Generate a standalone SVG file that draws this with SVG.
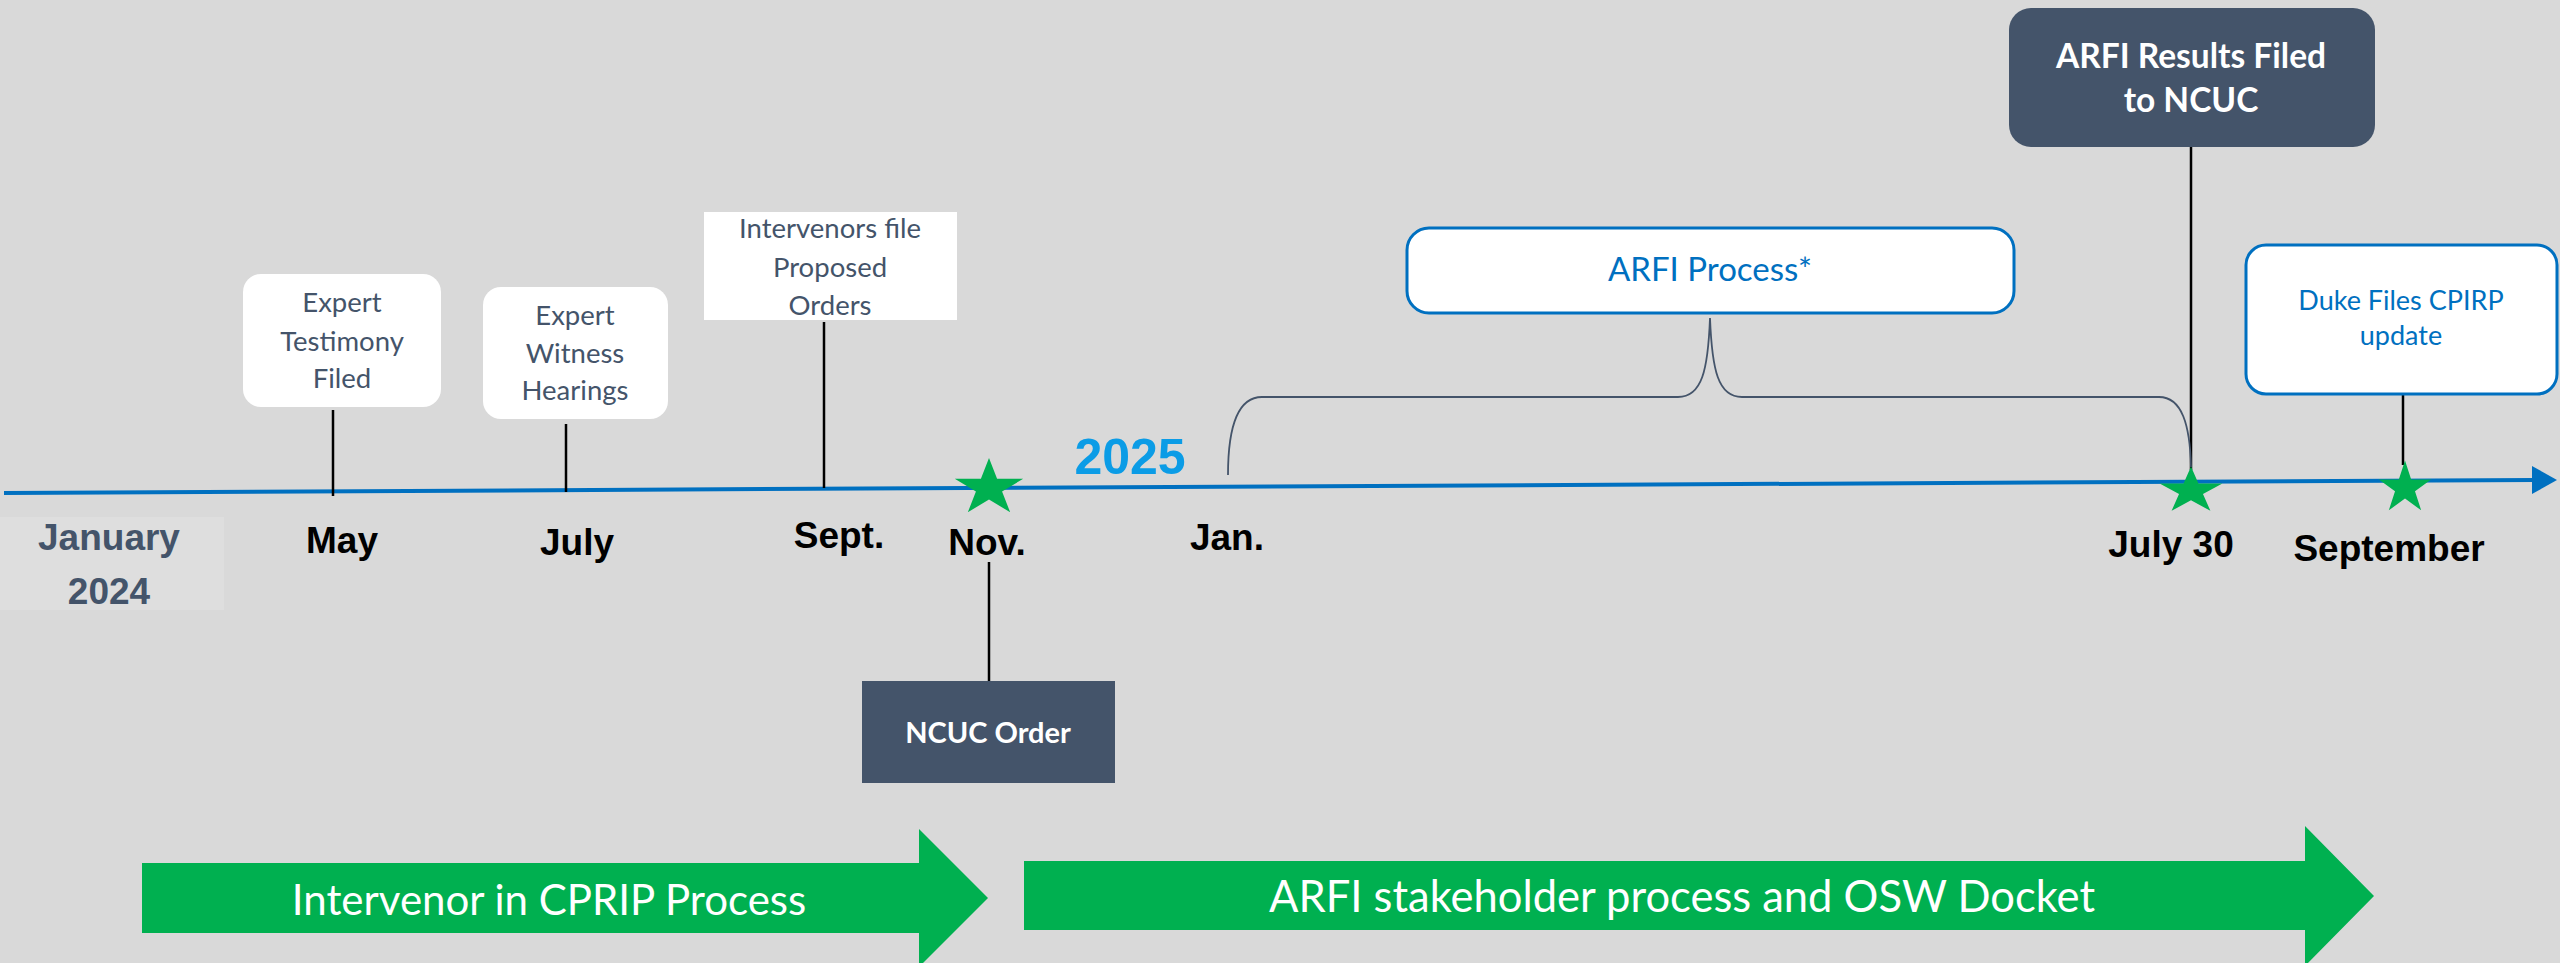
<svg xmlns="http://www.w3.org/2000/svg" width="2560" height="963" viewBox="0 0 2560 963">
<style>
.lbl{font-family:"Liberation Sans",Arial,sans-serif;font-weight:bold;font-size:37px;fill:#000;text-anchor:middle}
.box{fill:#fff}
.bt{font-family:Lato,"Open Sans",sans-serif;font-size:27.5px;fill:#44546A;text-anchor:middle}
.blue{fill:#fff;stroke:#0070C0;stroke-width:3}
.bluet{font-family:Lato,"Open Sans",sans-serif;fill:#0070C0;text-anchor:middle}
.dark{fill:#44546A}
.wt{font-family:Lato,"Open Sans",sans-serif;font-weight:bold;fill:#fff;text-anchor:middle}
.tick{stroke:#000;stroke-width:2.5;fill:none}
.star{fill:#00B050}
.garrow{fill:#00B050}
.gt{font-family:Lato,"Open Sans",sans-serif;fill:#fff;text-anchor:middle}
</style>
<defs>
<path id="star" d="M0,-1 L0.2245,-0.309 L0.951,-0.309 L0.363,0.118 L0.588,0.809 L0,0.382 L-0.588,0.809 L-0.363,0.118 L-0.951,-0.309 L-0.2245,-0.309 Z"/>
</defs>
<rect x="0" y="0" width="2560" height="963" fill="#D9D9D9"/>

<g id="connectors">
<polyline points="4,493 2534,480" fill="none" stroke="#0070C0" stroke-width="4"/>
<polygon points="2557,480 2532,466 2532,494" fill="#0070C0"/>
<line class="tick" x1="333" y1="410" x2="333" y2="496"/>
<line class="tick" x1="566" y1="424" x2="566" y2="492"/>
<line class="tick" x1="824" y1="322" x2="824" y2="488"/>
<line class="tick" x1="989" y1="562" x2="989" y2="681"/>
<line class="tick" x1="2191" y1="147" x2="2191" y2="470" stroke-width="2"/>
<line class="tick" x1="2403" y1="394" x2="2403" y2="465"/>
<path d="M1228,475 C1228,425 1238,397 1262,397 L1678,397 C1702,397 1708,370 1710,318 C1712,370 1718,397 1742,397 L2159,397 C2182,397 2190,425 2191,467" fill="none" stroke="#44546A" stroke-width="1.8"/>
</g>

<g id="year2024">
<rect x="0" y="517" width="224" height="93" fill="#DEDEDE"/>
<text class="lbl" x="109" y="550" style="fill:#44546A">January</text>
<text class="lbl" x="109" y="604" style="fill:#44546A">2024</text>
</g>

<g id="labels">
<text class="lbl" x="342" y="553">May</text>
<text class="lbl" x="577" y="555">July</text>
<text class="lbl" x="839" y="548">Sept.</text>
<text class="lbl" x="987" y="555">Nov.</text>
<text class="lbl" x="1227" y="550">Jan.</text>
<text class="lbl" x="2171" y="557">July 30</text>
<text class="lbl" x="2389" y="561">September</text>
<text x="1130" y="474" font-family="Liberation Sans,Arial,sans-serif" font-weight="bold" font-size="50" fill="#0B9CE6" text-anchor="middle">2025</text>
</g>

<g id="expert-testimony">
<rect class="box" x="243" y="274" width="198" height="133" rx="18"/>
<text class="bt" x="342" y="312">Expert</text>
<text class="bt" x="342" y="351">Testimony</text>
<text class="bt" x="342" y="388">Filed</text>
</g>

<g id="expert-witness">
<rect class="box" x="483" y="287" width="185" height="132" rx="18"/>
<text class="bt" x="575" y="325">Expert</text>
<text class="bt" x="575" y="363">Witness</text>
<text class="bt" x="575" y="400">Hearings</text>
</g>

<g id="intervenors-file">
<rect class="box" x="704" y="212" width="253" height="108"/>
<text class="bt" x="830" y="238">Intervenors file</text>
<text class="bt" x="830" y="277">Proposed</text>
<text class="bt" x="830" y="315">Orders</text>
</g>

<g id="ncuc-order">
<rect class="dark" x="862" y="681" width="253" height="102"/>
<text class="wt" x="988" y="743" font-size="29">NCUC Order</text>
</g>

<g id="arfi-process">
<rect class="blue" x="1407" y="228" width="607" height="85" rx="22"/>
<text class="bluet" x="1710" y="281" font-size="33">ARFI Process*</text>
</g>

<g id="arfi-results">
<rect class="dark" x="2009" y="8" width="366" height="139" rx="22"/>
<text class="wt" x="2191" y="68" font-size="33.5">ARFI Results Filed</text>
<text class="wt" x="2191" y="112" font-size="33.5">to NCUC</text>
</g>

<g id="duke-files">
<rect class="blue" x="2246" y="245" width="311" height="149" rx="20"/>
<text class="bluet" x="2401" y="310" font-size="27">Duke Files CPIRP</text>
<text class="bluet" x="2401" y="345" font-size="27">update</text>
</g>

<g id="stars">
<use href="#star" class="star" transform="translate(989,488) scale(36,30)"/>
<use href="#star" class="star" transform="translate(2191,491) scale(33,24.5)"/>
<use href="#star" class="star" transform="translate(2405,488) scale(27.5,27.6)"/>
</g>

<g id="arrow-cprip">
<polygon class="garrow" points="142,863 919,863 919,829 988,898 919,967 919,933 142,933"/>
<text class="gt" x="549" y="915" font-size="42">Intervenor in CPRIP Process</text>
</g>

<g id="arrow-arfi">
<polygon class="garrow" points="1024,861 2305,861 2305,826 2374,896 2305,966 2305,930 1024,930"/>
<text class="gt" x="1682" y="912" font-size="43.5">ARFI stakeholder process and OSW Docket</text>
</g>
</svg>
